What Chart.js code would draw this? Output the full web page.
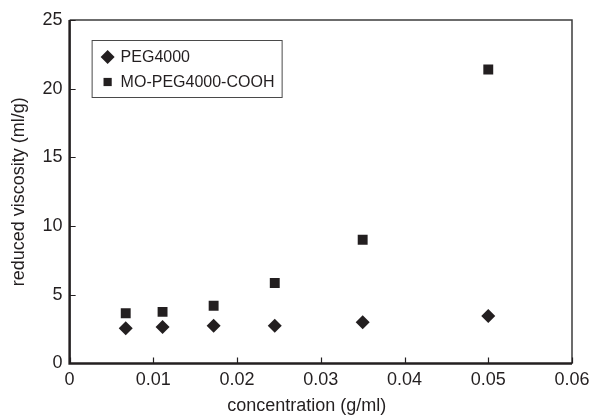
<!DOCTYPE html>
<html>
<head>
<meta charset="utf-8">
<title>Reduced viscosity vs concentration</title>
<script src="https://cdn.jsdelivr.net/npm/chart.js@4.4.0/dist/chart.umd.min.js"></script>
<style>
  html, body { margin: 0; padding: 0; background: #fff; }
  #wrap { width: 593px; height: 418px; position: relative; }
</style>
</head>
<body>
<div id="wrap"><canvas id="chart"></canvas></div>
<script>
// concentration (g/ml) of each sample
const concentration = [0.0067, 0.0111, 0.0172, 0.0245, 0.035, 0.05];
// reduced viscosity (ml/g)
const peg4000 = [2.55, 2.65, 2.75, 2.75, 3.0, 3.45];
const moPegCooh = [3.65, 3.75, 4.2, 5.85, 9.0, 21.4];

const seriesNames = ['PEG4000', 'MO-PEG4000-COOH'];
const xTickLabels = ['0', '0.01', '0.02', '0.03', '0.04', '0.05', '0.06'];
const yTickLabels = ['0', '5', '10', '15', '20', '25'];

const ink = '#231f20';
const fontFamily = '"Liberation Sans", Arial, sans-serif';

const toPoints = (ys) => concentration.map((x, i) => ({ x: x, y: ys[i] }));

// frame, inward tick marks, legend box and x title
const framePlugin = {
    id: 'frame',
    afterDraw(chart) {
        const ctx = chart.ctx;
        const area = chart.chartArea;
        const xs = chart.scales.x;
        const ys = chart.scales.y;

        ctx.save();

        // top and right edges, a bit lighter
        ctx.strokeStyle = '#3c3c3c';
        ctx.lineWidth = 1.5;
        ctx.beginPath();
        ctx.moveTo(area.left, area.top);
        ctx.lineTo(area.right, area.top);
        ctx.lineTo(area.right, area.bottom);
        ctx.stroke();

        // inward ticks
        ctx.strokeStyle = ink;
        ctx.lineWidth = 1.2;
        ctx.beginPath();
        xs.ticks.forEach(t => {
            const px = Math.round(xs.getPixelForValue(t.value)) + 0.5;
            ctx.moveTo(px, area.bottom);
            ctx.lineTo(px, area.bottom - 6);
        });
        ys.ticks.forEach(t => {
            const py = Math.round(ys.getPixelForValue(t.value)) + 0.5;
            ctx.moveTo(area.left, py);
            ctx.lineTo(area.left + 6, py);
        });
        ctx.stroke();

        // left and bottom axes
        ctx.strokeStyle = ink;
        ctx.lineWidth = 2.5;
        ctx.beginPath();
        ctx.moveTo(area.left, area.top);
        ctx.lineTo(area.left, area.bottom);
        ctx.lineTo(area.right, area.bottom);
        ctx.stroke();

        // legend
        const bx = area.left + 22;
        const by = area.top + 20;
        const bw = 190;
        const bh = 57;
        ctx.fillStyle = '#fff';
        ctx.fillRect(bx, by, bw, bh);
        ctx.strokeStyle = '#4a4a4a';
        ctx.lineWidth = 1;
        ctx.strokeRect(bx + 0.5, by + 0.5, bw, bh);

        const styles = [{ pointStyle: 'rectRot', radius: 7 }, { pointStyle: 'rect', radius: 5.8 }];
        ctx.font = '16px ' + fontFamily;
        ctx.textBaseline = 'middle';
        ctx.textAlign = 'left';
        seriesNames.forEach((name, i) => {
            const cy = by + 17 + i * 25;
            ctx.fillStyle = ink;
            Chart.helpers.drawPoint(ctx, {
                pointStyle: styles[i].pointStyle,
                radius: styles[i].radius,
                rotation: 0,
                borderWidth: 0
            }, bx + 16, cy);
            ctx.fillStyle = ink;
            ctx.fillText(name, bx + 29, cy + 1);
        });

        // x axis title
        ctx.font = '18px ' + fontFamily;
        ctx.textAlign = 'center';
        ctx.textBaseline = 'middle';
        ctx.fillStyle = ink;
        ctx.fillText('concentration (g/ml)', (area.left + area.right) / 2 - 14, area.bottom + 43);

        ctx.restore();
    }
};

new Chart(document.getElementById('chart'), {
    type: 'scatter',
    data: {
        datasets: [
            {
                label: seriesNames[0],
                data: toPoints(peg4000),
                pointStyle: 'rectRot',
                pointRadius: 7,
                pointHoverRadius: 7,
                pointBorderWidth: 0,
                backgroundColor: ink,
                borderColor: ink
            },
            {
                label: seriesNames[1],
                data: toPoints(moPegCooh),
                pointStyle: 'rect',
                pointRadius: 7,
                pointHoverRadius: 7,
                pointBorderWidth: 0,
                backgroundColor: ink,
                borderColor: ink
            }
        ]
    },
    options: {
        responsive: true,
        maintainAspectRatio: false,
        animation: false,
        layout: {
            padding: { left: 8, right: 21, top: 20, bottom: 21 }
        },
        plugins: {
            legend: { display: false },
            tooltip: { enabled: false }
        },
        scales: {
            x: {
                type: 'linear',
                min: 0,
                max: 0.06,
                grid: { display: false, drawTicks: false },
                border: { display: false },
                ticks: {
                    stepSize: 0.01,
                    padding: 6,
                    color: ink,
                    font: { family: fontFamily, size: 18 },
                    maxRotation: 0,
                    callback: (value, index) => xTickLabels[index]
                },
                // the last label may hang past the plot edge; layout padding handles it
                afterFit: (scale) => { scale.paddingRight = 0; }
            },
            y: {
                type: 'linear',
                min: 0,
                max: 25,
                grid: { display: false, drawTicks: false },
                border: { display: false },
                ticks: {
                    stepSize: 5,
                    padding: 7,
                    color: ink,
                    font: { family: fontFamily, size: 18 },
                    callback: (value, index) => yTickLabels[index]
                },
                title: {
                    display: true,
                    text: 'reduced viscosity (ml/g)',
                    color: ink,
                    font: { family: fontFamily, size: 18 },
                    padding: { top: 0, bottom: 6 }
                }
            }
        }
    },
    plugins: [framePlugin]
});
</script>
</body>
</html>
